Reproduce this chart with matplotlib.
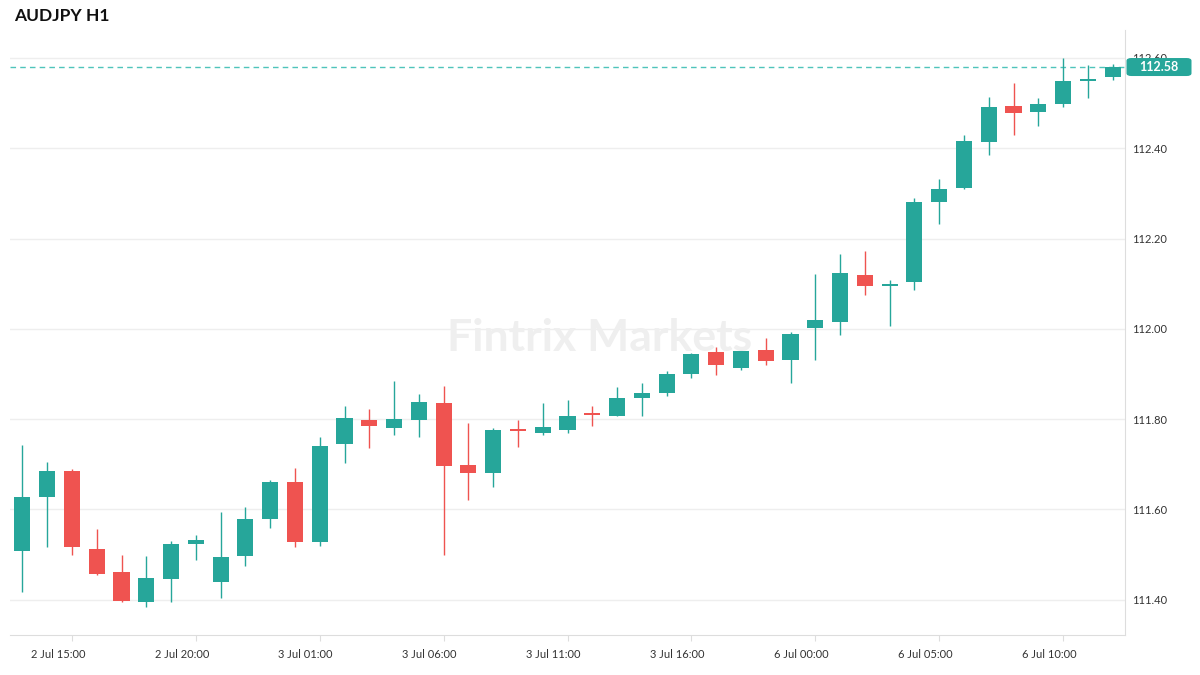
import matplotlib
matplotlib.use("Agg")
import matplotlib.pyplot as plt
import matplotlib.transforms as mtransforms
from matplotlib.patches import FancyBboxPatch
import numpy as np
import pandas as pd

UP_COLOR = "#26a69a"
DOWN_COLOR = "#ef5350"

# hourly candles, weekend skipped (category axis)
times = list(pd.date_range("2021-07-02 13:00", "2021-07-03 20:00", freq="h")) + list(
    pd.date_range("2021-07-06 00:00", "2021-07-06 12:00", freq="h")
)

opens = [111.509, 111.628, 111.686, 111.513, 111.462, 111.396, 111.447, 111.524, 111.440,
         111.498, 111.580, 111.661, 111.529, 111.744, 111.798, 111.781, 111.799, 111.836,
         111.699, 111.680, 111.775, 111.770, 111.777, 111.811, 111.808, 111.848, 111.859,
         111.901, 111.949, 111.914, 111.953, 111.930, 112.001, 112.016, 112.120, 112.096,
         112.103, 112.282, 112.311, 112.415, 112.494, 112.481, 112.499, 112.550, 112.559]
highs = [111.743, 111.705, 111.690, 111.557, 111.499, 111.497, 111.530, 111.544, 111.595,
         111.606, 111.666, 111.692, 111.761, 111.829, 111.823, 111.885, 111.856, 111.874,
         111.792, 111.781, 111.798, 111.836, 111.843, 111.829, 111.872, 111.880, 111.907,
         111.947, 111.960, 111.958, 111.980, 111.993, 112.122, 112.166, 112.173, 112.109,
         112.290, 112.332, 112.430, 112.514, 112.545, 112.512, 112.600, 112.585, 112.587]
lows = [111.418, 111.518, 111.500, 111.454, 111.394, 111.383, 111.394, 111.489, 111.403,
        111.474, 111.560, 111.516, 111.520, 111.702, 111.737, 111.766, 111.761, 111.500,
        111.622, 111.649, 111.739, 111.766, 111.770, 111.784, 111.808, 111.808, 111.852,
        111.892, 111.897, 111.910, 111.921, 111.881, 111.931, 111.987, 112.076, 112.007,
        112.087, 112.233, 112.309, 112.386, 112.430, 112.450, 112.492, 112.512, 112.552]
closes = [111.628, 111.686, 111.518, 111.458, 111.398, 111.449, 111.524, 111.533, 111.495,
          111.579, 111.661, 111.529, 111.741, 111.803, 111.784, 111.801, 111.838, 111.697,
          111.680, 111.776, 111.774, 111.783, 111.807, 111.810, 111.847, 111.858, 111.900,
          111.945, 111.919, 111.951, 111.928, 111.989, 112.020, 112.124, 112.096, 112.100,
          112.281, 112.310, 112.416, 112.492, 112.479, 112.498, 112.549, 112.552, 112.580]

y_ticks = [111.40, 111.60, 111.80, 112.00, 112.20, 112.40, 112.60]
title = "AUDJPY H1"
watermark = "Fintrix Markets"

plt.rcParams["font.family"] = ["Lato", "DejaVu Sans"]

fig = plt.figure(figsize=(12, 6.75), dpi=100)
ax = fig.add_axes([10 / 1200, 1 - 635 / 675, 1115 / 1200, 605 / 675])

x = np.arange(len(times))
o = np.array(opens)
c = np.array(closes)
colors = [UP_COLOR if cc >= oo else DOWN_COLOR for oo, cc in zip(o, c)]

ax.vlines(x, lows, highs, colors=colors, linewidth=1.0, zorder=2)
bottoms = np.minimum(o, c)
heights = np.maximum(np.abs(c - o), 0.004)
ax.bar(x, heights, bottom=bottoms, width=0.65, color=colors, linewidth=0, zorder=3)

ax.set_xlim(-0.5, len(times) - 0.5)
ax.set_ylim(111.322, 112.662)

# grid & spines
ax.yaxis.grid(True, color="#eeeeee", linewidth=1)
ax.set_axisbelow(True)
for side in ["top", "left"]:
    ax.spines[side].set_visible(False)
ax.spines["bottom"].set_color("#dddddd")
ax.spines["right"].set_color("#dddddd")

ax.yaxis.tick_right()
ax.set_yticks(y_ticks)
ax.set_yticklabels(["%.2f" % v for v in y_ticks])
ax.tick_params(axis="y", length=0, pad=5, labelsize=8, labelcolor="#333333")

tick_idx = list(range(2, len(times), 5))
ax.set_xticks(tick_idx)
ax.set_xticklabels([times[i].strftime("%-d %b %H:%M") for i in tick_idx])
ax.tick_params(axis="x", length=4, color="#dddddd", pad=6, labelsize=8, labelcolor="#333333")
shift = mtransforms.ScaledTranslation(-14 / 100, 0, fig.dpi_scale_trans)
for lbl in ax.get_xticklabels():
    lbl.set_transform(lbl.get_transform() + shift)

# last price line and label
last = closes[-1]
ax.axhline(last, color="#4fc4bb", linewidth=1.0, linestyle=(0, (4, 3)), zorder=1)

fig.canvas.draw()
_, y_pix = ax.transData.transform((0, last))
W, H = fig.bbox.width, fig.bbox.height
box = FancyBboxPatch(((1125 + 1.5) / W, (y_pix - 9) / H), 65 / W, 18 / H,
                     boxstyle="round,pad=0,rounding_size=0.004",
                     transform=fig.transFigure, fc=UP_COLOR, ec="none", zorder=10)
fig.patches.append(box)
fig.text((1126 + 33) / W, y_pix / H, "%.2f" % last, ha="center", va="center",
         fontsize=9, fontweight="bold", color="white", zorder=11)

fig.text(14 / 1200, 1 - 16 / 675, title, ha="left", va="center", fontsize=12.5,
         fontweight="bold", color="#111111")
fig.text(600 / 1200, 1 - 338 / 675, watermark, ha="center", va="center", fontsize=32,
         fontweight="bold", color="#efefef", zorder=0)

fig.savefig("out.png", dpi=100)
